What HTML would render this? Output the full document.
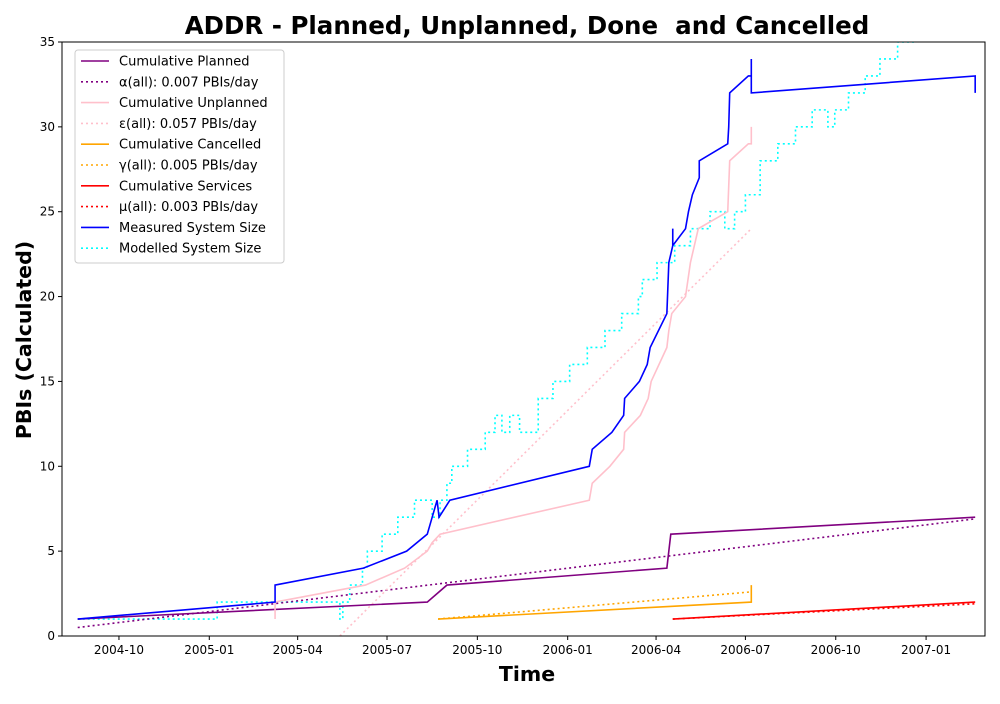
<!DOCTYPE html>
<html><head><meta charset="utf-8"><style>
body{margin:0;background:#fff;font-family:"DejaVu Sans","Liberation Sans",sans-serif}
svg text{font-family:"DejaVu Sans","Liberation Sans",sans-serif}
</style></head><body>
<svg id="c" width="1000" height="700" xmlns="http://www.w3.org/2000/svg"></svg>
<script>
// x values: days since 2004-10-01
const xTickLabels=["2004-10","2005-01","2005-04","2005-07","2005-10","2006-01","2006-04","2006-07","2006-10","2007-01"];
const xTickDays=[0,92,182,273,365,457,547,638,730,822];
const yTicks=[0,5,10,15,20,25,30,35];
const plannedX=[-42,314,334,558,560,562,872];
const plannedY=[1,2,3,4,5,6,7];
const alphaX=[-42,872]; const alphaY=[0.5,6.9];
const unplX=[159,159,251,291,314,319,327,479,482,500,514,515,531,539,542,558,560,563,577,582,590,620,622,641,644,644];
const unplY=[1,2,3,4,5,5.5,6,8,9,10,11,12,13,14,15,17,18,19,20,22,24,25,28,29,29,30];
const epsX=[225,644]; const epsY=[0,24];
const cancX=[325,644,644]; const cancY=[1,2,3];
const gammaX=[325,644]; const gammaY=[1,2.6];
const servX=[564,872]; const servY=[1,2];
const muX=[564,872]; const muY=[1,1.9];
const measX=[-42,159,159,249,293,314,319,324,326,337,479,482,502,514,515,530,538,541,558,560,564,564,564,577,580,584,591,591,620,621,622,641,644,644,644,872,872];
const measY=[1,2,3,4,5,6,7,8,7,8,10,11,12,13,14,15,16,17,19,22,23,24,23,24,25,26,27,28,29,30,32,33,33,34,32,33,32];
const modX=[-42,100,225,228,235,248,253,268,284,301,319,327,334,339,355,373,383,390,398,408,427,442,459,477,495,512,529,533,548,566,582,602,617,627,638,653,671,689,706,722,729,743,760,775,793,811,826,872];
const modY=[1,2,1,2,3,4,5,6,7,8,7,8,9,10,11,12,13,12,13,12,14,15,16,17,18,19,20,21,22,23,24,25,24,25,26,28,29,30,31,30,31,32,33,34,35,35.5,36,36];

const L=62,R=985,T=42,B=636,X0=-58,X1=882;
const sx=d=>L+(d-X0)/(X1-X0)*(R-L);
const sy=v=>B-v/35*(B-T);
const svg=document.getElementById('c');const NS="http://www.w3.org/2000/svg";
function mk(t,a,p){const e=document.createElementNS(NS,t);for(const k in a)e.setAttribute(k,a[k]);(p||svg).appendChild(e);return e;}
const defs=mk('defs',{});const cp=mk('clipPath',{id:'cp'},defs);mk('rect',{x:L,y:T,width:R-L,height:B-T},cp);
const g=mk('g',{'clip-path':'url(#cp)'});
function line(xs,ys,col,dot,name,step){
 let pts=[];for(let i=0;i<xs.length;i++){if(step&&i>0)pts.push(sx(xs[i])+','+sy(ys[i-1]));pts.push(sx(xs[i])+','+sy(ys[i]));}
 const p=mk('polyline',{points:pts.join(' '),fill:'none',stroke:col,'stroke-width':1.6,'stroke-dasharray':dot?'2,3':'none'},g);
 
 
}
line(modX,modY,'cyan',1,'modelled-system-size-line',1);
line(alphaX,alphaY,'purple',1,'alpha-trend-line');
line(epsX,epsY,'pink',1,'epsilon-trend-line');
line(gammaX,gammaY,'orange',1,'gamma-trend-line');
line(muX,muY,'red',1,'mu-trend-line');
line(plannedX,plannedY,'purple',0,'cumulative-planned-line');
line(unplX,unplY,'pink',0,'cumulative-unplanned-line');
line(cancX,cancY,'orange',0,'cumulative-cancelled-line');
line(servX,servY,'red',0,'cumulative-services-line');
line(measX,measY,'blue',0,'measured-system-size-line');
const fr=mk('rect',{x:L,y:T,width:R-L,height:B-T,fill:'none',stroke:'#000','stroke-width':1});

xTickDays.forEach((d,i)=>{const x=sx(d);mk('line',{x1:x,x2:x,y1:B,y2:B+4,stroke:'#000'});
 const t=mk('text',{x:x,y:B+18,'text-anchor':'middle','font-size':12});t.textContent=xTickLabels[i];
 });
yTicks.forEach(v=>{const y=sy(v);mk('line',{x1:L-4,x2:L,y1:y,y2:y,stroke:'#000'});
 const t=mk('text',{x:L-7,y:y+4,'text-anchor':'end','font-size':12});t.textContent=v;
 });
const ti=mk('text',{x:527,y:34,'text-anchor':'middle','font-size':24.5,'font-weight':'bold',style:'white-space:pre'});ti.textContent='ADDR - Planned, Unplanned, Done  and Cancelled';

const xt=mk('text',{x:527,y:681,'text-anchor':'middle','font-size':20.5,'font-weight':'bold'});xt.textContent='Time';

const yt=mk('text',{x:31,y:340,'text-anchor':'middle','font-size':20.5,'font-weight':'bold',transform:'rotate(-90 31 340)'});yt.textContent='PBIs (Calculated)';

// legend
const lg=mk('g',{});
mk('rect',{x:75,y:50,width:209,height:213,rx:3,fill:'#fff',stroke:'#ccc','fill-opacity':0.8},lg);
const ent=[['Cumulative Planned','purple',0],['α(all): 0.007 PBIs/day','purple',1],['Cumulative Unplanned','pink',0],['ε(all): 0.057 PBIs/day','pink',1],['Cumulative Cancelled','orange',0],['γ(all): 0.005 PBIs/day','orange',1],['Cumulative Services','red',0],['μ(all): 0.003 PBIs/day','red',1],['Measured System Size','blue',0],['Modelled System Size','cyan',1]];
ent.forEach((e,i)=>{const y=61+i*20.8;const eg=mk('g',{},lg);
 
 mk('line',{x1:81,x2:109,y1:y,y2:y,stroke:e[1],'stroke-width':1.6,'stroke-dasharray':e[2]?'2,3':'none'},eg);
 const t=mk('text',{x:119,y:y+4.5,'font-size':13},eg);t.textContent=e[0];});
</script>
</body></html>
